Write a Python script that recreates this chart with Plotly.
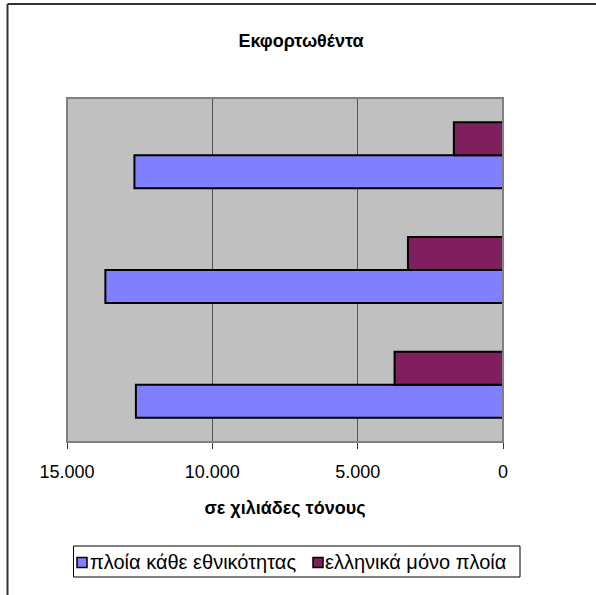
import plotly.graph_objects as go

# Data (categories listed top to bottom as in the chart; their labels are not shown)
categories = ["1", "2", "3"]
all_ships = [12680, 13680, 12630]      # πλοία κάθε εθνικότητας
greek_ships = [1690, 3270, 3730]       # ελληνικά μόνο πλοία
series_names = ["πλοία κάθε εθνικότητας", "ελληνικά μόνο πλοία"]
series_colors = ["#8080FF", "#7F1F5F"]
tick_values = [0, 5000, 10000, 15000]
tick_labels = ["0", "5.000", "10.000", "15.000"]
title_text = "Εκφορτωθέντα"
x_title = "σε χιλιάδες τόνους"

W, H = 596, 595
L, R, T, B = 67, 503, 98, 442  # plot area in pixels


def px(x):
    return (x - L) / (R - L)


def py(y):
    return (B - y) / (B - T)


fig = go.Figure()
fig.add_trace(go.Bar(
    y=categories, x=all_ships, orientation="h", name=series_names[0],
    marker=dict(color=series_colors[0], line=dict(color="#000000", width=2)),
))
fig.add_trace(go.Bar(
    y=categories, x=greek_ships, orientation="h", name=series_names[1],
    marker=dict(color=series_colors[1], line=dict(color="#000000", width=2)),
))

font_family = "Liberation Sans, Arial, sans-serif"

# custom legend (box, colour squares, texts)
leg_top, leg_bot = 546, 577
leg_mid = (leg_top + leg_bot) / 2
sq = 10
legend_items = [(77, 89), (313, 324)]  # (square left, text left) in pixels

shapes = [
    # plot area border (gray)
    dict(type="rect", xref="paper", yref="paper", x0=0, x1=1, y0=0, y1=1,
         line=dict(color="#808080", width=2), layer="above"),
    # outer chart frame (top and left edges visible)
    dict(type="line", xref="paper", yref="paper",
         x0=px(7.5), x1=px(W + 5), y0=py(4), y1=py(4),
         line=dict(color="#333333", width=2)),
    dict(type="line", xref="paper", yref="paper",
         x0=px(7.5), x1=px(7.5), y0=py(4), y1=py(H + 5),
         line=dict(color="#333333", width=2)),
    # legend box
    dict(type="rect", xref="paper", yref="paper",
         x0=px(73.5), x1=px(520), y0=py(leg_top), y1=py(leg_bot),
         line=dict(color="#000000", width=1), fillcolor="white"),
]
annotations = []
for (sx, tx), name, col in zip(legend_items, series_names, series_colors):
    shapes.append(dict(type="rect", xref="paper", yref="paper",
                       x0=px(sx), x1=px(sx + sq),
                       y0=py(leg_mid - sq / 2 + 1), y1=py(leg_mid + sq / 2 + 1),
                       line=dict(color="#000000", width=1.5), fillcolor=col))
    annotations.append(dict(text=name, xref="paper", yref="paper",
                            x=px(tx), y=py(leg_mid), xanchor="left", yanchor="middle",
                            showarrow=False, borderpad=0,
                            font=dict(family=font_family, size=20, color="#000000")))

fig.update_layout(
    width=W, height=H,
    margin=dict(l=L, r=W - R, t=T, b=H - B, pad=0),
    paper_bgcolor="white",
    plot_bgcolor="#C0C0C0",
    barmode="group",
    bargap=0.425,
    bargroupgap=0,
    font=dict(family=font_family, size=18, color="#000000"),
    title=dict(
        text="<b>" + title_text + "</b>",
        x=301 / W, xref="container", xanchor="center",
        y=1 - 41 / H, yref="container", yanchor="middle",
        font=dict(family=font_family, size=18, color="#000000"),
    ),
    showlegend=False,
    xaxis=dict(
        range=[15000, 0],
        tickvals=tick_values,
        ticktext=tick_labels,
        showgrid=True, gridcolor="#555555", gridwidth=1,
        zeroline=False,
        showline=True, linecolor="#333333", linewidth=1,
        ticks="outside", ticklen=6, tickcolor="#333333", tickwidth=1,
        ticklabelstandoff=7,
        tickfont=dict(family=font_family, size=18, color="#000000"),
        title=dict(text="<b>" + x_title + "</b>", standoff=20,
                   font=dict(family=font_family, size=18, color="#000000")),
        fixedrange=True,
    ),
    yaxis=dict(
        categoryorder="array", categoryarray=categories[::-1],
        showticklabels=False, ticks="",
        showgrid=False, zeroline=False,
        showline=False,
        fixedrange=True,
    ),
    shapes=shapes,
    annotations=annotations,
)

fig.write_html("out.html", config={"displayModeBar": False},
               post_script="document.body.style.margin='0';")
